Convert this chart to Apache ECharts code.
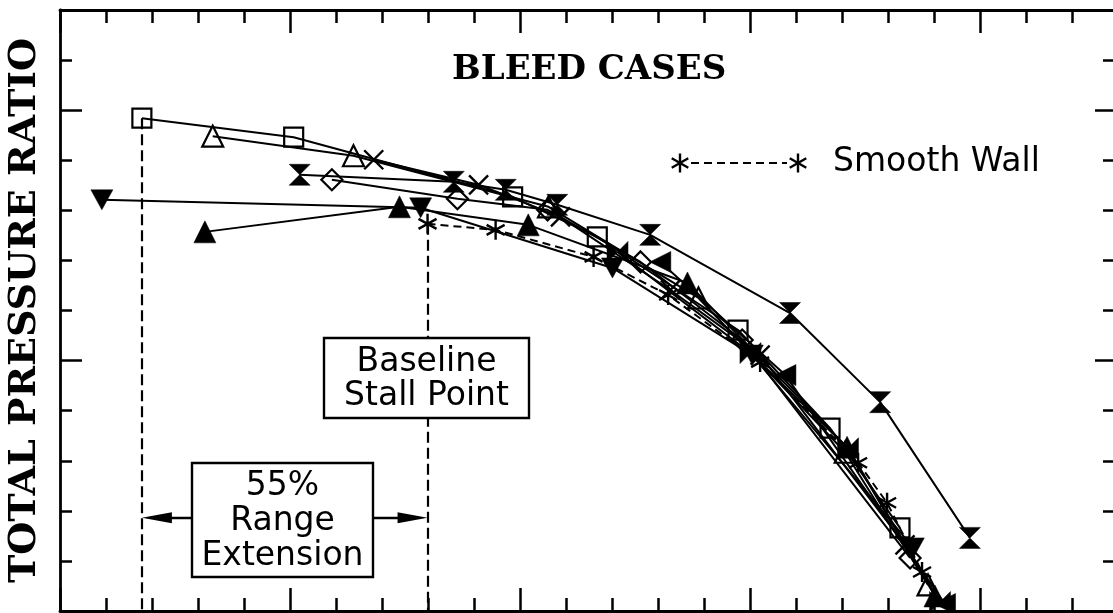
<!DOCTYPE html>
<html><head><meta charset="utf-8">
<script src="https://cdn.jsdelivr.net/npm/echarts@6/dist/echarts.min.js"></script>
<style>html,body{margin:0;padding:0;background:#fff}#c{width:1113px;height:613px}</style>
</head><body><div id="c"></div>
<script>
// Values in axis tick units (x: flow, y: total pressure ratio); axes carry no numeric labels
const squareOpen   = [[1.78,9.84],[5.08,9.46],[9.84,8.27],[11.68,7.47],[14.74,5.61],[16.74,3.65],[18.26,1.66]];
const triangleOpen = [[3.32,9.48],[6.38,9.09],[10.62,8.07],[13.88,6.25],[17.07,3.17],[18.87,0.52]];
const crossPts     = [[6.82,9.01],[9.10,8.51],[10.88,7.87],[13.27,6.41],[15.22,5.11],[18.37,1.32]];
const hourglass    = [[5.21,8.71],[8.56,8.57],[9.69,8.41],[10.81,8.11],[12.83,7.51],[15.87,5.95],[17.83,4.17],[19.78,1.46]];
const diamondOpen  = [[5.91,8.61],[8.64,8.23],[10.60,8.01],[12.62,6.97],[14.83,5.41],[18.48,1.06]];
const downTriFill  = [[0.91,8.21],[7.84,8.05],[12.01,6.85],[15.05,5.11],[18.55,1.26]];
const upTriFill    = [[3.15,7.57],[7.38,8.07],[10.18,7.71],[13.64,6.55],[17.11,3.27],[19.02,0.30]];
const bowtieFill   = [[12.12,7.17],[15.01,5.15],[17.13,3.25],[19.13,0.18]];
const leftTriFill  = [[13.05,6.97],[15.77,4.71],[19.24,0.14]];
const smoothWall   = [[7.99,7.73],[9.47,7.61],[11.60,7.07],[13.22,6.31],[15.22,4.97],[17.35,2.96],[17.98,2.16],[18.74,0.78]];
const xTickMinor = 1, xTickMajor = 5, xMax = 23;
const yTickMinor = 1, yTickMajor = 5, yMax = 12;
const rangeArrowY = 1.86;

const BLACK = '#000';
const ARROW_LEN = 30, X_UNIT_PX = 46; // arrowhead length in px, px per x unit (for tip placement)
const arrowInset = ARROW_LEN / 2 / X_UNIT_PX;
const SYM = {
  hourglass: 'path://M0,0L20,0L0,20L20,20Z',
  bowtie: 'path://M0,0L20,20L20,0L0,20Z',
  leftTri: 'path://M20,0L20,20L0,10Z',
  downTri: 'path://M0,0L22,0L11,20Z',
  cross: 'path://M0,0L20,20M20,0L0,20',
  star: 'path://M10,0L10,20M1,5L19,15M1,15L19,5'
};
function mk(name, data, symbol, opts) {
  opts = opts || {};
  return Object.assign({
    name, type: 'line', data, symbol, symbolSize: opts.size || 20, symbolKeepAspect: true,
    lineStyle: { color: BLACK, width: 2, type: opts.dash ? [8, 5] : 'solid' },
    itemStyle: opts.open ? { color: 'rgba(0,0,0,0)', borderColor: BLACK, borderWidth: 2.2 }
                         : opts.stroke ? { color: 'rgba(0,0,0,0)', borderColor: BLACK, borderWidth: 2.4 }
                         : { color: BLACK, borderColor: BLACK, borderWidth: 0.5 },
    emphasis: { disabled: true }, animation: false, z: opts.z || 2
  }, opts.extra || {});
}
function xAx(pos, interval, len, line) {
  return { type: 'value', min: 0, max: xMax, interval, position: pos,
    axisLine: { show: line, onZero: false, lineStyle: { color: BLACK, width: 2.8 } },
    axisTick: { show: true, inside: true, length: len, lineStyle: { color: BLACK, width: 2.5 } },
    axisLabel: { show: false }, splitLine: { show: false } };
}
function yAx(pos, interval, len, line, extra) {
  return Object.assign({ type: 'value', min: 0, max: yMax, interval, position: pos,
    axisLine: { show: line, onZero: false, lineStyle: { color: BLACK, width: 2.8 } },
    axisTick: { show: true, inside: true, length: len, lineStyle: { color: BLACK, width: 2.5 } },
    axisLabel: { show: false }, splitLine: { show: false } }, extra || {});
}
function starGraphic(cx, cy, r) {
  const s = { stroke: BLACK, lineWidth: 2.4 };
  const d = r * 0.87, h = r * 0.5;
  return { type: 'group', z: 100, children: [
    { type: 'line', shape: { x1: cx, y1: cy - r, x2: cx, y2: cy + r }, style: s },
    { type: 'line', shape: { x1: cx - d, y1: cy - h, x2: cx + d, y2: cy + h }, style: s },
    { type: 'line', shape: { x1: cx - d, y1: cy + h, x2: cx + d, y2: cy - h }, style: s }
  ] };
}
const chart = echarts.init(document.getElementById('c'), null, { renderer: 'canvas' });
const serifBold = { fontFamily: 'DejaVu Serif', fontWeight: 'bold', color: BLACK };
const sans = { fontFamily: 'DejaVu Sans', fontSize: 33 };
chart.setOption({
  animation: false,
  backgroundColor: '#fff',
  title: { text: 'BLEED CASES', left: 447, top: 48, textStyle: Object.assign({ fontSize: 34 }, serifBold) },
  grid: { left: 60, top: 10, right: -5, bottom: 2, containLabel: false, outerBoundsMode: 'none' },
  xAxis: [xAx('bottom', xTickMinor, 13, true), xAx('bottom', xTickMajor, 23, false),
          xAx('top', xTickMinor, 13, true), xAx('top', xTickMajor, 23, false)],
  yAxis: [yAx('left', yTickMinor, 12, true, { name: 'TOTAL PRESSURE RATIO', nameLocation: 'middle', nameGap: 16,
            nameTextStyle: Object.assign({ fontSize: 38 }, serifBold) }),
          yAx('left', yTickMajor, 22, false), yAx('right', yTickMinor, 15, false), yAx('right', yTickMajor, 23, false)],
  series: [
    mk('Open square', squareOpen, 'rect', { open: true, size: 19, extra: { markLine: {
      silent: true, symbol: 'none', animation: false, label: { show: false },
      lineStyle: { color: BLACK, width: 2.2, type: [11, 5] },
      data: [[{ coord: squareOpen[0] }, { coord: [squareOpen[0][0], 0] }],
             [{ coord: smoothWall[0] }, { coord: [smoothWall[0][0], 0] }]] } } }),
    mk('Open triangle', triangleOpen, 'triangle', { open: true, size: 21 }),
    mk('Open diamond', diamondOpen, 'diamond', { open: true, size: 21 }),
    mk('Cross', crossPts, SYM.cross, { stroke: true, size: 19 }),
    mk('Smooth Wall', smoothWall, SYM.star, { stroke: true, size: 20, dash: true, extra: { markLine: {
      silent: true, animation: false, label: { show: false }, symbol: ['triangle', 'triangle'], symbolSize: [11, ARROW_LEN],
      lineStyle: { color: BLACK, width: 2.4, type: 'solid' },
      data: [[{ coord: [squareOpen[0][0] + arrowInset, rangeArrowY] }, { coord: [smoothWall[0][0] - arrowInset, rangeArrowY] }]] } } }),
    mk('Filled down triangle', downTriFill, SYM.downTri, { size: 22, z: 3 }),
    mk('Filled up triangle', upTriFill, 'triangle', { size: 22, z: 3 }),
    mk('Hourglass', hourglass, SYM.hourglass, { size: 21, z: 3 }),
    mk('Bowtie', bowtieFill, SYM.bowtie, { size: 21, z: 3 }),
    mk('Left triangle', leftTriFill, SYM.leftTri, { size: 21, z: 3 })
  ],
  graphic: [
    { type: 'rect', z: 100, shape: { x: 324, y: 338, width: 205, height: 80 }, style: { fill: '#fff', stroke: BLACK, lineWidth: 2.4 } },
    { type: 'text', z: 101, x: 426.5, y: 379, style: Object.assign({ text: 'Baseline\nStall Point', align: 'center', verticalAlign: 'middle', lineHeight: 34, fill: BLACK }, sans) },
    { type: 'rect', z: 100, shape: { x: 192, y: 463, width: 181, height: 114 }, style: { fill: '#fff', stroke: BLACK, lineWidth: 2.4 } },
    { type: 'text', z: 101, x: 282.5, y: 521, style: Object.assign({ text: '55%\nRange\nExtension', align: 'center', verticalAlign: 'middle', lineHeight: 35, fill: BLACK }, sans) },
    { type: 'line', z: 100, shape: { x1: 691, y1: 163, x2: 787, y2: 163 }, style: { stroke: BLACK, lineWidth: 2, lineDash: [8, 5] } },
    starGraphic(680, 163, 9.5),
    starGraphic(798, 163, 9.5),
    { type: 'text', z: 101, x: 833, y: 162, style: Object.assign({ text: 'Smooth Wall', align: 'left', verticalAlign: 'middle', fill: BLACK }, sans) }
  ]
});
</script></body></html>
